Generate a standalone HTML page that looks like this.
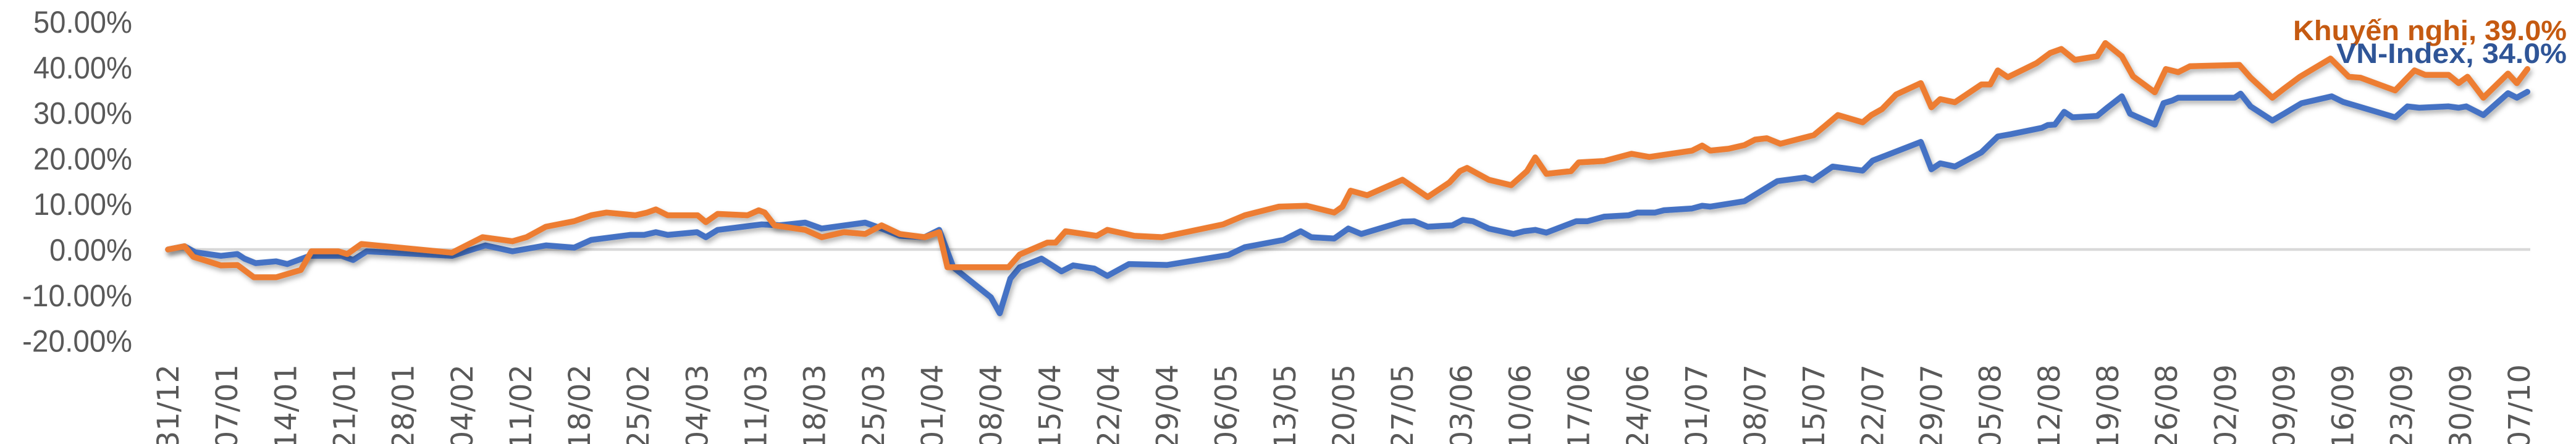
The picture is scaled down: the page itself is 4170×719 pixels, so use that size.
<!DOCTYPE html>
<html><head><meta charset="utf-8"><style>
html,body{margin:0;padding:0;background:#fff;}
svg{display:block;}
</style></head><body>
<svg id="chart" width="4170" height="719" viewBox="0 0 4170 719" xmlns="http://www.w3.org/2000/svg">
<defs>
<filter id="sh" x="-5%" y="-20%" width="110%" height="140%">
<feDropShadow dx="3" dy="5" stdDeviation="4" flood-color="#000" flood-opacity="0.3"/>
</filter>
</defs>
<g id="yaxis"></g>
<g id="xaxis"></g>
<line x1="268" y1="404" x2="4096" y2="404" stroke="#D9D9D9" stroke-width="4.5"/>
<g id="series"></g>
<text x="4155" y="65" text-anchor="end" font-family="'Liberation Sans', sans-serif" font-weight="bold" font-size="45" fill="#C55A11" textLength="443" lengthAdjust="spacingAndGlyphs">Khuyến nghị, 39.0%</text>
<text x="4155" y="102" text-anchor="end" font-family="'Liberation Sans', sans-serif" font-weight="bold" font-size="45" fill="#2F5597" textLength="373" lengthAdjust="spacingAndGlyphs">VN-Index, 34.0%</text>
</svg>
<script>
const yTicks = [50, 40, 30, 20, 10, 0, -10, -20];
const xLabels = ["31/12","07/01","14/01","21/01","28/01","04/02","11/02","18/02","25/02","04/03","11/03","18/03","25/03","01/04","08/04","15/04","22/04","29/04","06/05","13/05","20/05","27/05","03/06","10/06","17/06","24/06","01/07","08/07","15/07","22/07","29/07","05/08","12/08","19/08","26/08","02/09","09/09","16/09","23/09","30/09","07/10"];
// time in weeks since 31/12
const orangeWeeks = [0,0.28,0.43,0.9,1.18,1.46,1.84,2.26,2.44,2.9,3.05,3.29,4.83,5.35,5.86,6.1,6.43,6.91,7.2,7.46,7.95,8.15,8.3,8.5,9.01,9.15,9.35,9.86,10.05,10.15,10.32,10.84,11.12,11.5,11.86,12.14,12.45,12.87,13.12,13.26,14.3,14.49,14.96,15.1,15.27,15.8,15.98,16.44,16.91,17.95,18.32,18.9,19.37,19.84,19.98,20.12,20.4,21.0,21.43,21.8,21.98,22.1,22.47,22.85,23.12,23.26,23.45,23.87,24.0,24.43,24.9,25.2,25.93,26.1,26.24,26.55,26.82,27.0,27.2,27.43,28.0,28.18,28.41,28.83,28.98,29.16,29.4,29.82,30.0,30.15,30.4,30.85,31.0,31.13,31.3,31.79,32.02,32.21,32.44,32.82,32.96,33.24,33.43,33.8,33.99,34.2,34.4,35.24,35.43,35.8,35.99,36.27,36.79,37.1,37.3,37.89,38.22,38.4,38.8,38.97,39.12,39.39,39.81,39.96,40.14];
const orangeValues = [0,0.7,-1.6,-3.5,-3.4,-6.1,-6.1,-4.5,-0.4,-0.4,-1,1.2,-0.7,2.7,1.8,2.7,5.0,6.2,7.5,8.1,7.5,8.1,8.8,7.5,7.5,6.0,7.8,7.5,8.6,8.1,5.3,4.3,2.7,3.8,3.4,5.3,3.4,2.7,3.8,-3.9,-3.9,-1.1,1.5,1.5,4.0,3.0,4.3,3.0,2.7,5.5,7.5,9.4,9.6,8.1,9.4,12.9,11.9,15.3,11.5,14.7,17.2,17.9,15.3,14.1,17.2,20.2,16.6,17.2,19.1,19.4,21.0,20.3,21.7,22.8,21.7,22.1,22.9,24.1,24.4,23.2,25.1,27.0,29.5,27.9,29.5,30.8,34.0,36.5,31.2,33.0,32.3,36.2,36.2,39.3,37.8,40.9,43.1,44.0,41.6,42.4,45.3,42.4,38.0,34.5,39.6,38.9,40.2,40.5,37.7,33.3,35.2,37.9,41.9,37.9,37.7,34.9,39.3,38.3,38.3,36.5,37.9,33.3,38.6,36.5,39.6];
const blueWeeks = [0,0.28,0.46,0.9,1.18,1.3,1.49,1.84,2.03,2.41,2.95,3.15,3.38,4.83,5.4,5.86,6.43,6.91,7.2,7.86,8.1,8.3,8.5,9.0,9.15,9.35,10.1,10.4,10.84,11.12,11.86,12.14,12.45,12.87,13.12,13.36,14.0,14.15,14.33,14.49,14.86,15.2,15.4,15.76,15.98,16.35,17.0,18.04,18.32,18.98,19.27,19.45,19.84,20.08,20.3,21.0,21.2,21.43,21.85,22.03,22.2,22.47,22.89,23.07,23.26,23.45,23.96,24.15,24.43,24.85,25.0,25.3,25.45,25.93,26.1,26.24,26.82,27.38,27.85,27.98,28.32,28.83,29.0,29.82,30.0,30.15,30.4,30.85,31.13,31.35,31.88,31.98,32.1,32.26,32.4,32.82,33.0,33.24,33.38,33.8,33.95,34.1,34.2,35.16,35.26,35.43,35.8,36.0,36.3,36.81,37.0,37.89,38.1,38.3,38.8,38.97,39.1,39.39,39.81,39.96,40.14];
const blueValues = [0,0.7,-0.6,-1.4,-1.0,-2.0,-3.0,-2.6,-3.2,-1.4,-1.4,-2.3,-0.4,-1.4,0.9,-0.4,0.9,0.4,2.1,3.2,3.2,3.8,3.2,3.8,2.7,4.3,5.5,5.3,5.9,4.6,5.9,4.6,3.0,2.7,4.3,-3.9,-10.5,-14.0,-6.4,-3.9,-2.0,-4.8,-3.5,-4.2,-5.8,-3.2,-3.4,-1.2,0.5,2.1,4.0,2.7,2.4,4.6,3.4,6.1,6.2,5.0,5.3,6.5,6.2,4.6,3.4,4.0,4.3,3.7,6.2,6.2,7.2,7.5,8.1,8.1,8.6,9.0,9.6,9.4,10.6,15.0,15.8,15.2,18.2,17.3,19.5,23.6,17.6,18.9,18.2,21.3,24.8,25.3,26.7,27.3,27.4,30.2,29.0,29.3,31.2,33.6,29.8,27.4,32.1,32.7,33.3,33.3,34.2,31.4,28.3,29.8,32.1,33.6,32.4,29.0,31.4,31.1,31.4,31.1,31.4,29.5,34.3,33.3,34.6];

const NS = "http://www.w3.org/2000/svg";
function xScale(w){ return 272 + w * 95.15; }
function yScale(v){ return 404 - v * 7.38; }

const yAxis = document.getElementById('yaxis');
yTicks.forEach(function(t){
  const el = document.createElementNS(NS,'text');
  
  
  el.setAttribute('x', 214);
  el.setAttribute('y', yScale(t) + 18);
  el.setAttribute('text-anchor','end');
  el.setAttribute('font-family',"'Liberation Sans', sans-serif");
  el.setAttribute('font-size','50');
  el.setAttribute('fill','#595959');
  const s = t.toFixed(2) + '%';
  el.setAttribute('textLength', s.length === 6 ? 160 : (s.length === 5 ? 134 : 178));
  el.setAttribute('lengthAdjust','spacingAndGlyphs');
  el.textContent = s;
  yAxis.appendChild(el);
});

const xAxis = document.getElementById('xaxis');
xLabels.forEach(function(lab, i){
  const x = xScale(i) + 17;
  const el = document.createElementNS(NS,'text');
  
  
  el.setAttribute('x', x);
  el.setAttribute('y', 590);
  el.setAttribute('transform','rotate(-90 ' + x + ' 590)');
  el.setAttribute('text-anchor','end');
  el.setAttribute('font-family',"'DejaVu Sans', sans-serif");
  el.setAttribute('font-size','48');
  el.setAttribute('fill','#595959');
  el.textContent = lab;
  xAxis.appendChild(el);
});

function drawLine(weeks, vals, color, name){
  const d = weeks.map(function(w,i){ return (i ? 'L' : 'M') + xScale(w).toFixed(1) + ',' + yScale(vals[i]).toFixed(1); }).join(' ');
  const p = document.createElementNS(NS,'path');
  
  
  p.setAttribute('d', d);
  p.setAttribute('fill','none');
  p.setAttribute('stroke', color);
  p.setAttribute('stroke-width','9.5');
  p.setAttribute('stroke-linejoin','round');
  p.setAttribute('stroke-linecap','round');
  p.setAttribute('filter','url(#sh)');
  document.getElementById('series').appendChild(p);
}
drawLine(blueWeeks, blueValues, '#4472C4', 'vn-index-line');
drawLine(orangeWeeks, orangeValues, '#ED7D31', 'khuyen-nghi-line');
</script>
</body></html>
